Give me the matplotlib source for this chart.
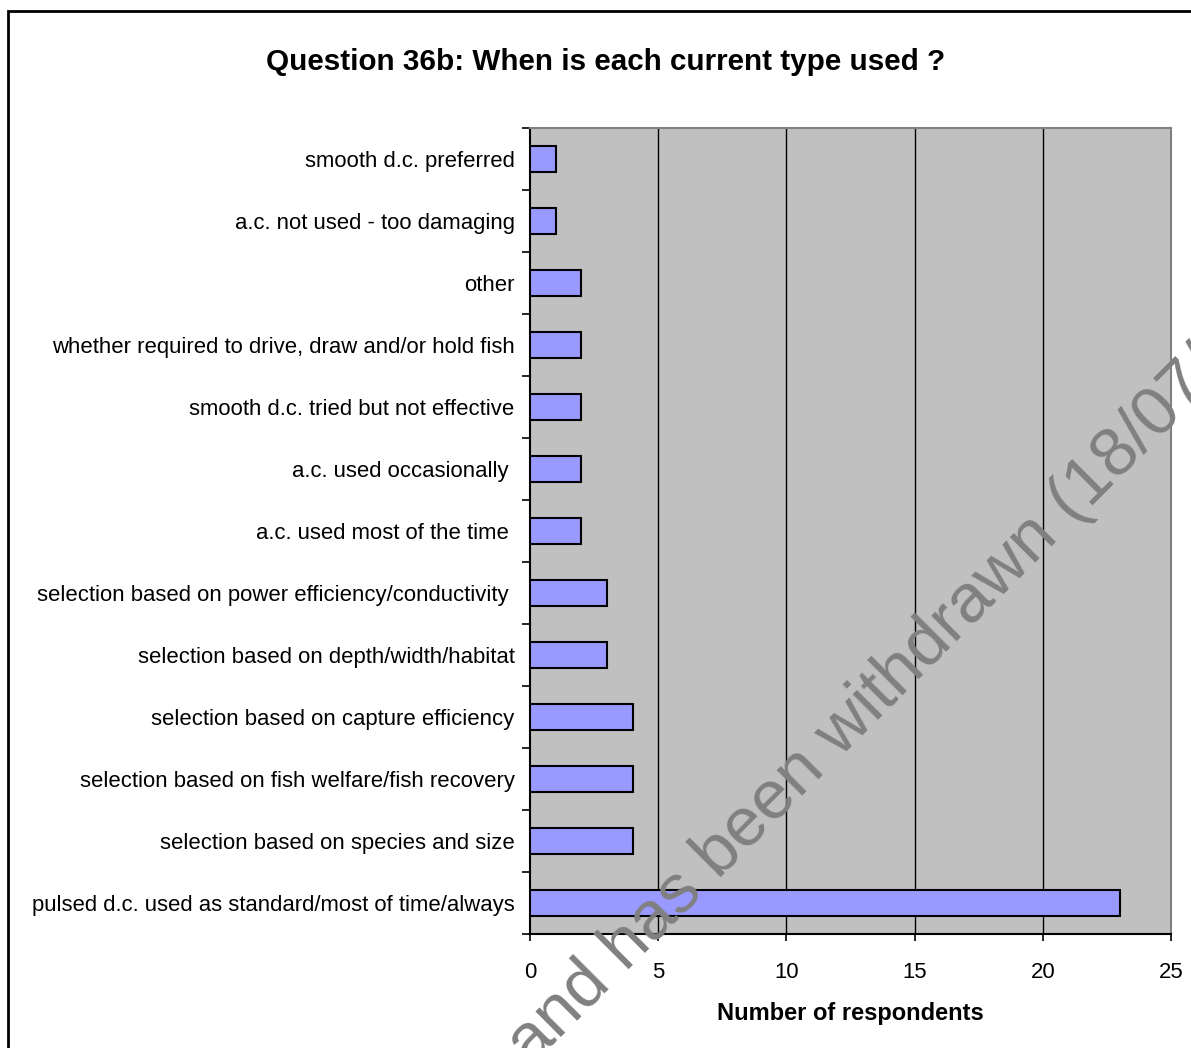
#!/usr/bin/env python3
"""
Question 36b: when is each current type used (horizontal bar chart).
"""

import numpy as np
import matplotlib

matplotlib.use("Agg")
import matplotlib.pyplot as plt
from matplotlib.patches import Rectangle

# categories listed top to bottom as they appear in the chart
categories = [
    "smooth d.c. preferred",
    "a.c. not used - too damaging",
    "other",
    "whether required to drive, draw and/or hold fish",
    "smooth d.c. tried but not effective",
    "a.c. used occasionally ",
    "a.c. used most of the time ",
    "selection based on power efficiency/conductivity ",
    "selection based on depth/width/habitat",
    "selection based on capture efficiency",
    "selection based on fish welfare/fish recovery",
    "selection based on species and size",
    "pulsed d.c. used as standard/most of time/always",
]
respondents = [1, 1, 2, 2, 2, 2, 2, 3, 3, 4, 4, 4, 23]
x_ticks = [0, 5, 10, 15, 20, 25]

title = "Question 36b: When is each current type used ?"
x_label = "Number of respondents"
watermark = "and has been withdrawn (18/07/"


def main() -> None:
    plt.rcParams["font.family"] = ["Liberation Sans", "DejaVu Sans"]

    W, H = 1191, 1048
    fig = plt.figure(figsize=(W / 100, H / 100), dpi=100)
    ax = fig.add_axes([530 / W, 1 - 934 / H, (1171 - 530) / W, (934 - 128) / H])

    ax.set_facecolor("#c0c0c0")
    y = np.arange(len(categories))
    ax.barh(y, respondents, height=0.43, color="#9999ff",
            edgecolor="black", linewidth=1.5, zorder=3)

    ax.set_xlim(0, 25)
    ax.set_ylim(len(categories) - 0.5, -0.5)
    ax.set_xticks(x_ticks)
    ax.set_xticklabels([str(t) for t in x_ticks], fontsize=15.9)
    ax.tick_params(axis="x", length=5, width=1.2, pad=15)

    ax.set_yticks(y)
    ax.set_yticklabels(categories, fontsize=15.9)
    ax.tick_params(axis="y", which="major", length=0, pad=11)
    ax.set_yticks(np.arange(len(categories) + 1) - 0.5, minor=True)
    ax.tick_params(axis="y", which="minor", length=6, width=1.2)

    for t in x_ticks[1:-1]:
        ax.axvline(t, color="black", linewidth=1.0, zorder=1)

    for side in ("left", "bottom"):
        ax.spines[side].set_linewidth(1.5)
        ax.spines[side].set_color("black")
    for side in ("top", "right"):
        ax.spines[side].set_linewidth(1.5)
        ax.spines[side].set_color("#808080")

    ax.set_xlabel(x_label, fontsize=17, fontweight="bold", labelpad=14)
    fig.text(606 / W, 1 - 62 / H, title, fontsize=21.3, fontweight="bold",
             ha="center", va="center")

    # outer chart border (right and bottom edges run off the image)
    fig.patches.append(Rectangle((8 / W, -0.05), 1.1, 1 - 11 / H + 0.05,
                                 transform=fig.transFigure, fill=False,
                                 edgecolor="black", linewidth=2))

    fig.text(531 / W, 1 - 1067 / H, watermark, fontsize=49.7, color="#808080",
             rotation=45, rotation_mode="anchor", ha="left", va="baseline",
             zorder=10)

    fig.savefig("out.png", dpi=100)
    plt.close(fig)


if __name__ == "__main__":
    main()
